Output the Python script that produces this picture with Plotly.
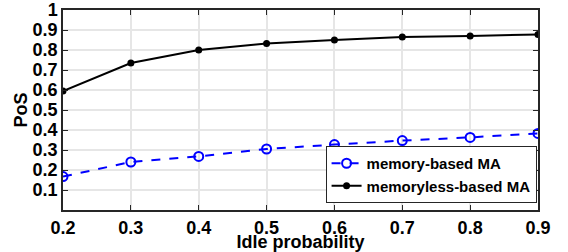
import plotly.graph_objects as go

idle_prob = [0.2, 0.3, 0.4, 0.5, 0.6, 0.7, 0.8, 0.9]
memory_based = [0.167, 0.240, 0.268, 0.305, 0.327, 0.347, 0.363, 0.383]
memoryless_based = [0.595, 0.735, 0.800, 0.833, 0.850, 0.865, 0.870, 0.878]
y_ticks = [0.1, 0.2, 0.3, 0.4, 0.5, 0.6, 0.7, 0.8, 0.9, 1]
y_tick_text = ["0.1", "0.2", "0.3", "0.4", "0.5", "0.6", "0.7", "0.8", "0.9", "1"]

font_family = "Liberation Sans, Arial, sans-serif"

fig = go.Figure()
fig.add_trace(go.Scatter(
    x=idle_prob, y=memory_based, name="<b>memory-based MA</b>",
    mode="lines+markers",
    line=dict(color="#0000ff", width=2, dash="dash"),
    marker=dict(symbol="circle-open", size=9, color="#0000ff", line=dict(width=2)),
))
fig.add_trace(go.Scatter(
    x=idle_prob, y=memoryless_based, name="<b>memoryless-based MA</b>",
    mode="lines+markers",
    line=dict(color="#000000", width=2),
    marker=dict(symbol="circle", size=7, color="#000000"),
))

axis_common = dict(
    showline=True, linecolor="#262626", linewidth=1.5, mirror="ticks",
    ticks="inside", ticklen=5, tickcolor="#262626",
    showgrid=True, gridcolor="#e6e6e6", gridwidth=1.5,
    zeroline=False, automargin=False, ticklabeloverflow="allow",
    tickfont=dict(family=font_family, size=18, color="#000000", weight="bold"),
)

fig.update_layout(
    width=568, height=252,
    margin=dict(l=63, r=30, t=10, b=42),
    paper_bgcolor="white", plot_bgcolor="white",
    font=dict(family=font_family, color="#000000"),
    showlegend=True,
    legend=dict(
        x=0.997, y=0.035, xanchor="right", yanchor="bottom",
        bgcolor="white", bordercolor="#262626", borderwidth=1,
        font=dict(family=font_family, size=15, color="#000000"),
        tracegroupgap=0, itemwidth=30,
    ),
    xaxis=dict(
        range=[0.2, 0.9], tickvals=idle_prob,
        ticktext=[f"{v:.1f}" for v in idle_prob],
        ticklabelstandoff=1,
        title=dict(text="<b>Idle probability</b>",
                   font=dict(family=font_family, size=18, color="#000000")),
        **axis_common,
    ),
    yaxis=dict(
        range=[0, 1], tickvals=y_ticks, ticktext=y_tick_text,
        title=dict(text="<b>PoS</b>", standoff=0,
                   font=dict(family=font_family, size=18, color="#000000")),
        **axis_common,
    ),
)

# Remove the browser's default 8px body margin so the figure fills the window.
fig.write_html(
    "out.html",
    config={"displayModeBar": False},
    post_script="document.body.style.margin='0';document.body.style.overflow='hidden';",
)
